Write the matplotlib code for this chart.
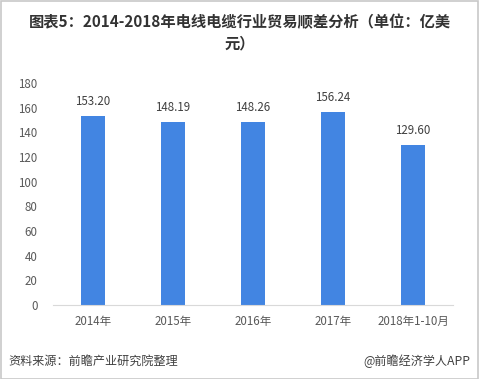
import matplotlib
matplotlib.use("Agg")
import matplotlib.pyplot as plt
from matplotlib.patches import Rectangle

plt.rcParams['font.family'] = ['Noto Sans CJK SC', 'DejaVu Sans']

categories = ["2014年", "2015年", "2016年", "2017年", "2018年1-10月"]
values = [153.20, 148.19, 148.26, 156.24, 129.60]
yticks = [0, 20, 40, 60, 80, 100, 120, 140, 160, 180]

W, H = 479, 379
fig = plt.figure(figsize=(W/100, H/100), dpi=100)
fig.patch.set_facecolor('white')
fig.patches.append(Rectangle((0.5/W, 0.5/H), 1-1.5/W, 1-1.5/H, transform=fig.transFigure,
                             fill=False, edgecolor='#C8C8C8', linewidth=1.2))

ax = fig.add_axes([53/W, 1-305/H, 400/W, 222/H])
x = list(range(len(categories)))
ax.bar(x, values, width=0.31, color='#4285E2', zorder=2)
for xi, v in zip(x, values):
    ax.annotate(f"{v:.2f}", (xi, v), xytext=(0, 6), textcoords='offset points',
                ha='center', va='bottom', fontsize=8.3, color='#404040')
ax.set_xlim(-0.5, len(categories)-0.5)
ax.set_ylim(0, 180)
ax.set_yticks(yticks)
ax.set_xticks(x)
ax.set_xticklabels(categories)
for s in ['top', 'right', 'left']:
    ax.spines[s].set_visible(False)
ax.spines['bottom'].set_color('#D9D9D9')
ax.tick_params(axis='y', length=0, pad=11, labelsize=8.3, labelcolor='#595959')
ax.tick_params(axis='x', length=0, pad=7, labelsize=8.3, labelcolor='#595959')

fig.text(0.5, 1-22/H, "图表5：2014-2018年电线电缆行业贸易顺差分析（单位：亿美", ha='center', va='center',
         fontsize=11, fontweight='bold', color='#333333')
fig.text(0.5, 1-43/H, "元）", ha='center', va='center',
         fontsize=11, fontweight='bold', color='#333333')
fig.text(8/W, 1-361/H, "资料来源：前瞻产业研究院整理", ha='left', va='center',
         fontsize=8.7, style='italic', color='#404040')
fig.text(470/W, 1-361/H, "@前瞻经济学人APP", ha='right', va='center',
         fontsize=8.7, color='#404040')

fig.savefig("out.png", dpi=100)
